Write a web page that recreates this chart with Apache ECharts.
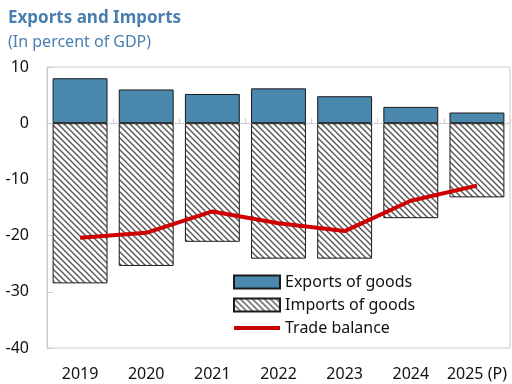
<!DOCTYPE html>
<html>
<head>
<meta charset="utf-8">
<script src="https://cdn.jsdelivr.net/npm/echarts@6/dist/echarts.min.js"></script>
<style>
  html, body { margin: 0; padding: 0; background: #fff; }
  #chart { width: 512px; height: 384px; }
</style>
</head>
<body>
<div id="chart"></div>
<script>
// Exports, imports and trade balance, percent of GDP
const years = ['2019', '2020', '2021', '2022', '2023', '2024', '2025 (P)'];
const exportsOfGoods = [8.0, 6.0, 5.2, 6.2, 4.8, 2.9, 1.9];
const importsOfGoods = [-28.5, -25.4, -21.1, -24.1, -24.1, -16.9, -13.2];
const tradeBalance = [-20.4, -19.5, -15.7, -17.8, -19.2, -13.8, -11.1];
const yTicks = [-40, -30, -20, -10, 0, 10];

// Diagonal hatch fill for the import bars
function makeHatch() {
  const s = 6;
  const c = document.createElement('canvas');
  c.width = s; c.height = s;
  const g = c.getContext('2d');
  g.fillStyle = '#ffffff';
  g.fillRect(0, 0, s, s);
  g.strokeStyle = '#555555';
  g.lineWidth = 1.4;
  g.beginPath();
  g.moveTo(-1, -1); g.lineTo(s + 1, s + 1);
  g.moveTo(-1, s - 1); g.lineTo(1, s + 1);
  g.moveTo(s - 1, -1); g.lineTo(s + 1, 1);
  g.stroke();
  return c;
}

const font = '"Noto Sans", "Open Sans", sans-serif';
const chart = echarts.init(document.getElementById('chart'));
chart.setOption({
  animation: false,
  textStyle: { fontFamily: font },
  title: [
    { text: 'Exports and Imports', left: 3, top: 5,
      textStyle: { fontFamily: font, fontSize: 17, fontWeight: 'bold', color: '#4a7fb0' } },
    { text: '(In percent of GDP)', left: 3, top: 29,
      textStyle: { fontFamily: font, fontSize: 16, fontWeight: 'normal', color: '#4a7fb0' } }
  ],
  grid: { left: 47, right: 2, top: 67, bottom: 36, show: true, borderColor: '#cccccc', borderWidth: 1 },
  legend: {
    orient: 'vertical', left: 233, top: 274, padding: 0,
    itemWidth: 46, itemHeight: 13, itemGap: 7,
    textStyle: { fontFamily: font, fontSize: 16, color: '#111' },
    data: [
      { name: 'Exports of goods', icon: 'rect' },
      { name: 'Imports of goods', icon: 'rect' },
      { name: 'Trade balance', icon: 'path://M0,0H46V4H0Z' }
    ]
  },
  xAxis: [
    {
      type: 'category', data: years, position: 'bottom',
      axisLine: { show: false, onZero: false }, axisTick: { show: false },
      axisLabel: { fontSize: 16, color: '#111', margin: 18, fontFamily: font, interval: 0 }
    },
    {
      type: 'category', data: years, position: 'bottom',
      axisLine: { show: true, onZero: true, lineStyle: { color: '#cccccc', width: 1 } },
      axisTick: { show: true, inside: true, length: 5, lineStyle: { color: '#cccccc' } },
      axisLabel: { show: false }
    }
  ],
  yAxis: {
    type: 'value', min: yTicks[0], max: yTicks[yTicks.length - 1], interval: 10,
    axisLine: { show: true, lineStyle: { color: '#cccccc' } },
    axisTick: { show: true, inside: true, length: 6, lineStyle: { color: '#cccccc' } },
    splitLine: { show: false },
    axisLabel: { fontSize: 16, color: '#111', margin: 18, fontFamily: font }
  },
  series: [
    {
      name: 'Exports of goods', type: 'bar', data: exportsOfGoods,
      barCategoryGap: '17%', barGap: '-100%',
      itemStyle: { color: '#4a88ad', borderColor: '#1a1a1a', borderWidth: 1 }
    },
    {
      name: 'Imports of goods', type: 'bar', data: importsOfGoods,
      barCategoryGap: '17%', barGap: '-100%',
      itemStyle: { color: { image: makeHatch(), repeat: 'repeat' }, borderColor: '#1a1a1a', borderWidth: 1 }
    },
    {
      name: 'Trade balance', type: 'line', data: tradeBalance,
      symbol: 'none', z: 5,
      lineStyle: { color: '#cc0000', width: 4 },
      itemStyle: { color: '#cc0000' }
    }
  ]
});
</script>
</body>
</html>
